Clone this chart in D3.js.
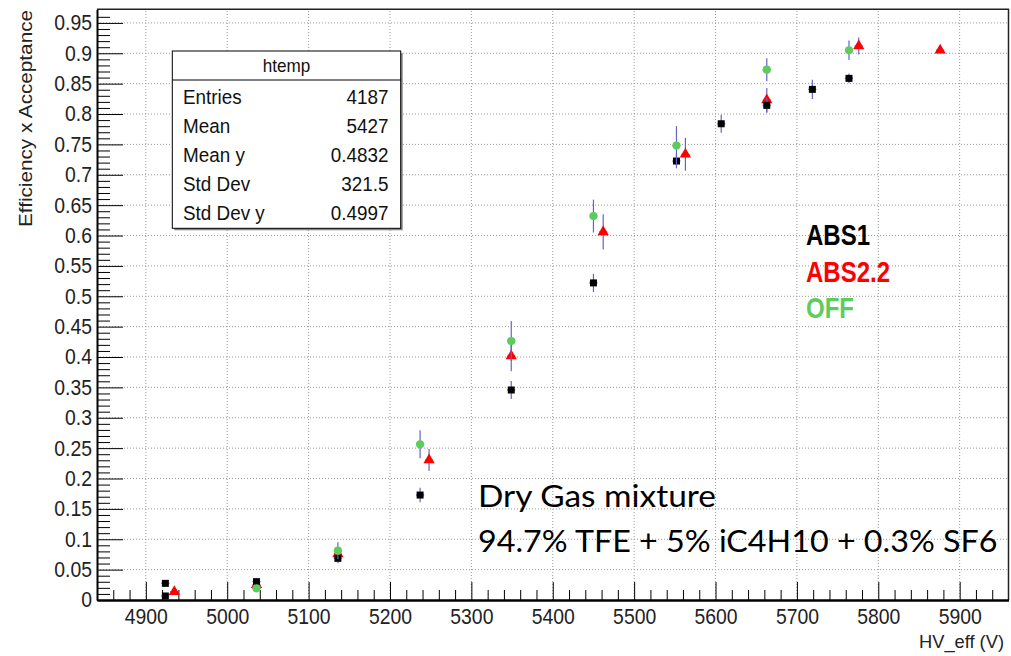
<!DOCTYPE html>
<html>
<head>
<meta charset="utf-8">
<script src="https://cdn.jsdelivr.net/npm/d3@7"></script>
<style>
  body { margin: 0; background: #fff; }
  text { font-family: "Liberation Sans", Arial, sans-serif; }
</style>
</head>
<body>
<main></main>
<script>
// ABS1 (black squares)
const abs1X = [4924, 4924, 5036, 5136, 5237, 5349, 5450, 5552, 5607, 5663, 5719, 5764];
const abs1Y = [0.0274, 0.0066, 0.0302, 0.0686, 0.1728, 0.3457, 0.522, 0.7226, 0.784, 0.8143, 0.8406, 0.8587];
const abs1E = [0.004, 0.004, 0.005, 0.008, 0.012, 0.015, 0.015, 0.012, 0.015, 0.012, 0.016, 0.008];
// ABS2.2 (red triangles)
const abs22X = [4935, 5036, 5136, 5248, 5349, 5462, 5563, 5663, 5776, 5876];
const abs22Y = [0.0137, 0.025, 0.0757, 0.2305, 0.4016, 0.606, 0.7336, 0.823, 0.912, 0.905];
const abs22E = [0.004, 0.006, 0.01, 0.018, 0.025, 0.029, 0.027, 0.02, 0.014, 0.005];
// OFF (green circles)
const offX = [5036, 5136, 5237, 5349, 5450, 5552, 5663, 5764];
const offY = [0.0192, 0.0812, 0.2563, 0.4263, 0.632, 0.748, 0.873, 0.905];
const offE = [0.006, 0.014, 0.023, 0.033, 0.027, 0.032, 0.019, 0.016];
const xErr = 5;

const xTicks = [4900, 5000, 5100, 5200, 5300, 5400, 5500, 5600, 5700, 5800, 5900];
const yTicks = [0, 0.05, 0.1, 0.15, 0.2, 0.25, 0.3, 0.35, 0.4, 0.45, 0.5, 0.55, 0.6, 0.65, 0.7, 0.75, 0.8, 0.85, 0.9, 0.95];
const statLabels = ["Entries", "Mean", "Mean y", "Std Dev", "Std Dev y"];
const statValues = ["4187", "5427", "0.4832", "321.5", "0.4997"];
const legendNames = ["ABS1", "ABS2.2", "OFF"];
const legendColors = ["#000000", "#ff0000", "#5ccc5c"];
const noteLines = ["Dry Gas mixture", "94.7% TFE + 5% iC4H10 + 0.3% SF6"];

const svg = d3.select("main").append("svg").attr("width", 1011).attr("height", 656);

const x = d3.scaleLinear().domain([4840, 5960]).range([97, 1008.5]);
const y = d3.scaleLinear().domain([0, 0.9724]).range([600, 9.3]);

// squeeze text horizontally like the ROOT rendering
function squeeze(sel, k) {
  sel.each(function () {
    const w = this.getComputedTextLength();
    d3.select(this).attr("textLength", w * k).attr("lengthAdjust", "spacingAndGlyphs");
  });
}

// grid
const grid = svg.append("g").attr("stroke", "#9a9a9a").attr("stroke-dasharray", "1,2");
grid.selectAll(".gx").data(xTicks).join("line")
  .attr("x1", d => x(d)).attr("x2", d => x(d)).attr("y1", 600).attr("y2", 9.3);
grid.selectAll(".gy").data(yTicks.slice(1)).join("line")
  .attr("x1", 97).attr("x2", 1008.5).attr("y1", d => y(d)).attr("y2", d => y(d));

// frame top/right
svg.append("path").attr("d", "M97,9.3H1008.5V600").attr("fill", "none").attr("stroke", "#222").attr("stroke-width", 1.5);

// minor ticks
const yMinor = d3.range(0, 97).map(i => i / 100).filter(v => Math.round(v * 100) % 5 !== 0);
const xMinor = d3.range(4860, 5960, 20).filter(v => v % 100 !== 0);

svg.append("g").attr("transform", "translate(97,0)")
  .call(d3.axisLeft(y).tickValues(yMinor).tickSize(-13).tickFormat(""))
  .call(g => g.select(".domain").remove());
svg.append("g").attr("transform", "translate(0,600)")
  .call(d3.axisBottom(x).tickValues(xMinor).tickSize(-10).tickFormat(""))
  .call(g => g.select(".domain").remove());

// major axes
const yAxis = svg.append("g").attr("transform", "translate(97,0)")
  .call(d3.axisLeft(y).tickValues(yTicks).tickSize(-26).tickPadding(5).tickSizeOuter(0)
    .tickFormat(d => String(+d.toFixed(2))));
yAxis.select(".domain").attr("stroke-width", 2);
yAxis.selectAll("text").attr("font-size", 21.5).attr("fill", "#222");
squeeze(yAxis.selectAll("text"), 0.9);

const xAxis = svg.append("g").attr("transform", "translate(0,600)")
  .call(d3.axisBottom(x).tickValues(xTicks).tickSize(-18).tickPadding(9).tickSizeOuter(0)
    .tickFormat(d3.format("d")));
xAxis.select(".domain").attr("stroke-width", 2.5);
xAxis.selectAll("text").attr("font-size", 21.5).attr("fill", "#222");
squeeze(xAxis.selectAll("text"), 0.9);

// axis titles
svg.append("text").attr("x", 1004).attr("y", 648).attr("text-anchor", "end")
  .attr("font-size", 19).attr("fill", "#222")
  .attr("textLength", 85).attr("lengthAdjust", "spacingAndGlyphs")
  .text("HV_eff (V)");
svg.append("text").attr("transform", "translate(32,10) rotate(-90)").attr("text-anchor", "end")
  .attr("font-size", 18).attr("fill", "#222")
  .attr("textLength", 217).attr("lengthAdjust", "spacingAndGlyphs")
  .text("Efficiency x Acceptance");

// series
const series = [
  { xs: abs22X, ys: abs22Y, es: abs22E, color: legendColors[1], shape: d3.symbolTriangle, size: 55 },
  { xs: abs1X, ys: abs1Y, es: abs1E, color: legendColors[0], shape: d3.symbolSquare, size: 49 },
  { xs: offX, ys: offY, es: offE, color: legendColors[2], shape: d3.symbolCircle, size: 52 }
];

series.forEach(s => {
  const pts = s.xs.map((v, i) => ({ x: v, y: s.ys[i], e: s.es[i] }));
  const g = svg.append("g");
  g.selectAll(".ey").data(pts).join("line")
    .attr("x1", d => x(d.x)).attr("x2", d => x(d.x))
    .attr("y1", d => y(d.y - d.e)).attr("y2", d => y(d.y + d.e))
    .attr("stroke", "#6464c8").attr("stroke-width", 1.2);
  g.selectAll(".ex").data(pts).join("line")
    .attr("x1", d => x(d.x - xErr)).attr("x2", d => x(d.x + xErr))
    .attr("y1", d => y(d.y)).attr("y2", d => y(d.y))
    .attr("stroke", "#6464c8").attr("stroke-width", 1.2);
  g.selectAll("path").data(pts).join("path")
    .attr("transform", d => `translate(${x(d.x)},${y(d.y)})`)
    .attr("d", d3.symbol(s.shape, s.size))
    .attr("fill", s.color);
});

// stats box
const box = svg.append("g");
box.append("rect").attr("x", 174.3).attr("y", 53).attr("width", 228.4).attr("height", 177.3).attr("fill", "#888");
box.append("rect").attr("x", 172.3).attr("y", 51).attr("width", 228.4).attr("height", 177.3)
  .attr("fill", "#fff").attr("stroke", "#000").attr("stroke-width", 1);
box.append("line").attr("x1", 172.3).attr("x2", 400.7).attr("y1", 80).attr("y2", 80).attr("stroke", "#000");
const bt = box.append("text").attr("x", 286.5).attr("y", 72).attr("text-anchor", "middle")
  .attr("font-size", 19).attr("fill", "#111").text("htemp");
squeeze(bt, 0.9);
const rows = box.selectAll(".row").data(statLabels).join("g");
rows.append("text").attr("x", 183).attr("y", (d, i) => 104 + i * 29)
  .attr("font-size", 20.5).attr("fill", "#111").text(d => d);
rows.append("text").attr("x", 388.5).attr("y", (d, i) => 104 + i * 29).attr("text-anchor", "end")
  .attr("font-size", 20.5).attr("fill", "#111").text((d, i) => statValues[i]);
squeeze(rows.selectAll("text"), 0.92);

// legend text
const leg = svg.append("g").selectAll("text").data(legendNames).join("text")
  .attr("x", 806).attr("y", (d, i) => 245 + i * 36.7)
  .attr("font-size", 30).attr("font-weight", "bold")
  .attr("fill", (d, i) => legendColors[i]).text(d => d);
squeeze(leg, 0.8);

// note
svg.append("g").selectAll("text").data(noteLines).join("text")
  .attr("x", 478).attr("y", (d, i) => 506.7 + i * 45)
  .style("font-family", "Lato, 'Open Sans', sans-serif").attr("font-size", 30).attr("fill", "#000")
  .attr("textLength", (d, i) => [238, 519.5][i]).attr("lengthAdjust", "spacingAndGlyphs")
  .text(d => d);
</script>
</body>
</html>
